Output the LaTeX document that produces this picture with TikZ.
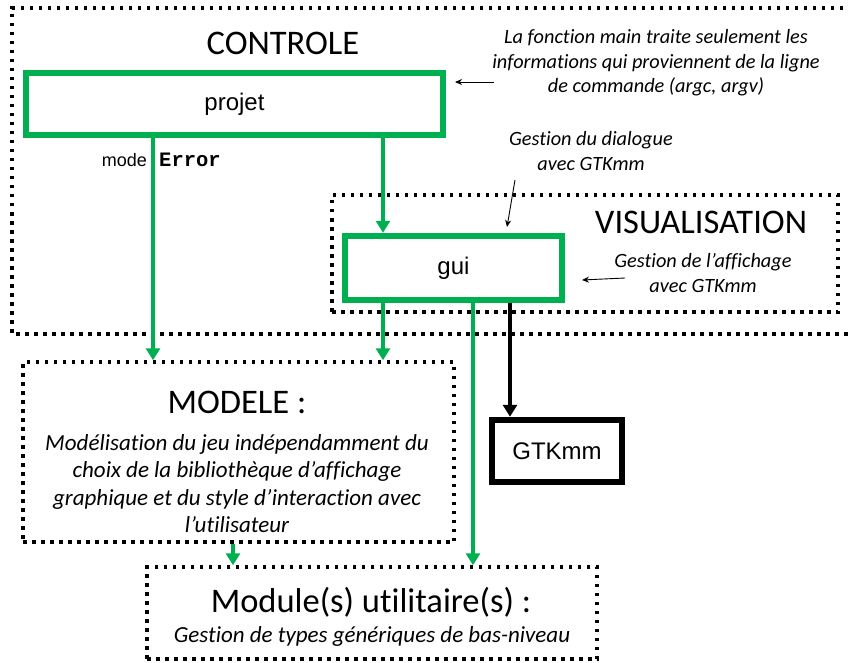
\documentclass[tikz,border=0pt]{standalone}
\usepackage{fontspec}
\setmainfont{Carlito}[Ligatures=NoCommon]
\newfontfamily\arialf{Liberation Sans}
\newfontfamily\monof{Liberation Mono}
\usetikzlibrary{arrows.meta}
\definecolor{ogreen}{HTML}{00B050}
\begin{document}
\begin{tikzpicture}[x=1pt,y=-1pt,
  dotbox/.style={draw=black, line width=3.5pt, dash pattern=on 3.5pt off 5.5pt, inner sep=0pt},
  gbox/.style={draw=ogreen, line width=6.5pt, inner sep=0pt, font=\arialf\fontsize{24}{28}\selectfont},
  kbox/.style={draw=black, line width=6.5pt, inner sep=0pt, font=\arialf\fontsize{24}{28}\selectfont},
  title/.style={inner sep=0pt, font=\fontsize{34.5}{40}\selectfont},
  note/.style={inner sep=0pt, align=center, font=\itshape\fontsize{20.3}{24.5}\selectfont},
  garrow/.style={draw=ogreen, line width=3.5pt, -{Triangle[width=14pt,length=12pt]}},
  karrow/.style={draw=black, line width=3.5pt, -{Triangle[width=14pt,length=12pt]}},
  narrow/.style={draw=black, line width=0.9pt, -{Stealth[width=6pt,length=7pt]}}
]
\useasboundingbox (0,0) rectangle (848,663);
% outer CONTROLE region
\draw[dotbox] (852,8) -- (12,8) -- (12,334) -- (852,334);
% VISUALISATION region
\node[dotbox, minimum width=506pt, minimum height=117pt] (visu) at (585,253.5) {};
% boxes
\node[gbox, minimum width=417pt, minimum height=62pt] (projet) at (234.5,104) {projet};
\node[gbox, minimum width=217pt, minimum height=64pt] (gui) at (453.5,268) {gui};
\node[kbox, minimum width=130pt, minimum height=62pt] (gtk) at (557,451) {GTKmm};
\node[dotbox, minimum width=431pt, minimum height=180pt] (modele) at (238.5,452) {};
\node[dotbox, minimum width=450pt, minimum height=92pt] (module) at (372,613) {};
% titles
\node[title, anchor=base] (tcontrole) at (283,55) {CONTROLE};
\node[title, anchor=base] (tvisu) at (701,233) {VISUALISATION};
\node[title, anchor=base] (tmodele) at (237,413) {MODELE :};
\node[title, anchor=base] (tmodule) at (371,612) {Module(s) utilitaire(s) :};
% notes
\node[note] (n1) at (656,63) {La fonction main traite seulement les\\informations qui proviennent de la ligne\\de commande (argc, argv)};
\node[note] (n2) at (591,151) {Gestion du dialogue\\avec GTKmm};
\node[note] (n3) at (703,273) {Gestion de l’affichage\\avec GTKmm};
\node[note, font=\itshape\fontsize{23}{27.6}\selectfont] (dmodele) at (237,483.5) {Modélisation du jeu indépendamment du\\choix de la bibliothèque d’affichage\\graphique et du style d’interaction avec\\l’utilisateur};
\node[note, font=\itshape\fontsize{23}{27}\selectfont, anchor=base] (dmodule) at (372,642) {Gestion de types génériques de bas-niveau};
% mode Error label
\node[inner sep=0pt, anchor=base east, font=\arialf\fontsize{18}{22}\selectfont] (lmode) at (147,167) {mode};
\node[inner sep=0pt, anchor=base west, font=\monof\bfseries\fontsize{20.5}{22}\selectfont] (lerror) at (159,167) {Error};
% connector x positions
\coordinate (x1) at (153,0);
\coordinate (x2) at (383,0);
\coordinate (x3) at (473,0);
\coordinate (x4) at (510,0);
\coordinate (x5) at (233,0);
% connectors
\draw[garrow] (projet.south -| x1) -- (modele.north -| x1);
\draw[garrow] (projet.south -| x2) -- (gui.north -| x2);
\draw[garrow] (gui.south -| x2) -- (modele.north -| x2);
\draw[garrow] (gui.south -| x3) -- (module.north -| x3);
\draw[karrow] (gui.south -| x4) -- (gtk.north -| x4);
\draw[garrow] (modele.south -| x5) -- (module.north -| x5);
% annotation arrows
\coordinate (a1s) at (494,82);
\coordinate (a1e) at (455,82);
\coordinate (a2s) at (515,180);
\coordinate (a2e) at (507,227);
\coordinate (a3s) at (625,278);
\coordinate (a3e) at (582,280);
\draw[narrow] (a1s) -- (a1e);
\draw[narrow] (a2s) -- (a2e);
\draw[narrow] (a3s) -- (a3e);
\end{tikzpicture}
\end{document}
